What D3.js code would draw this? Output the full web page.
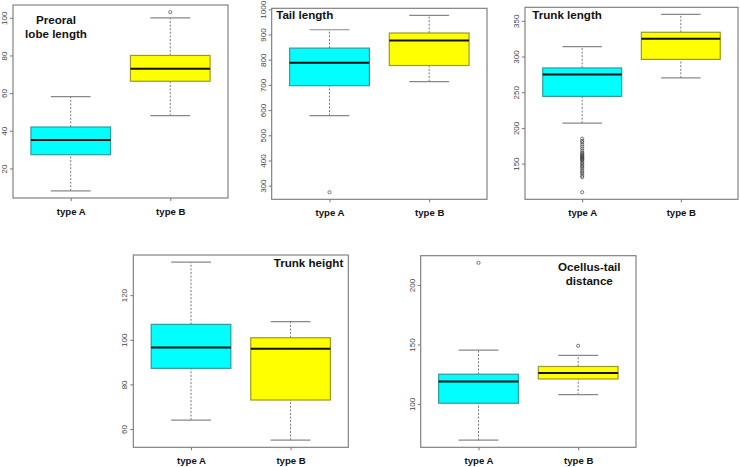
<!DOCTYPE html>
<html><head><meta charset="utf-8">
<script src="https://cdn.jsdelivr.net/npm/d3@7"></script>
<style>
html,body{margin:0;padding:0;background:#fff;}
svg{display:block;font-family:"Liberation Sans",Arial,Helvetica,sans-serif;}
</style></head>
<body><svg id="c" width="740" height="467"></svg>
<script>
// ---- data ----
const categories = ["type A", "type B"];

const preoralA = [8.1, 27.3, 35.1, 42, 58.1];
const preoralB = [48, 66.3, 73, 80, 100];
const preoralOutA = [];
const preoralOutB = [103];
const preoralTicks = [20, 40, 60, 80, 100];

const tailA = [578, 697, 788, 846, 919];
const tailB = [713, 777, 876, 906, 976];
const tailOutA = [274];
const tailOutB = [];
const tailTicks = [300, 400, 500, 600, 700, 800, 900, 1000];

const trunkLenA = [206.6, 244.2, 274.7, 284, 314];
const trunkLenB = [270, 296, 325, 334, 359];
const trunkLenOutA = [185, 182, 180, 177, 174, 171, 168, 165, 164, 162, 161, 160, 159, 158, 157, 156, 155, 153, 151, 149, 147, 145, 143, 140, 138, 136, 133, 131, 110];
const trunkLenOutB = [];
const trunkLenTicks = [150, 200, 250, 300, 350];

const trunkHtA = [64, 87.2, 96.5, 106.9, 134.8];
const trunkHtB = [55, 73, 96, 100.9, 108.1];
const trunkHtOutA = [];
const trunkHtOutB = [];
const trunkHtTicks = [60, 80, 100, 120];

const ocellusA = [69.5, 100.6, 118.8, 125, 145.3];
const ocellusB = [107.8, 121, 126, 131.5, 140.8];
const ocellusOutA = [218.7];
const ocellusOutB = [148.9];
const ocellusTicks = [100, 150, 200];

const titlePreoral = ["Preoral", "lobe length"];
const titleTail = ["Tail length"];
const titleTrunkLen = ["Trunk length"];
const titleTrunkHt = ["Trunk height"];
const titleOcellus = ["Ocellus-tail", "distance"];

// ---- layout / style ----
const fills = ["#00FFFF", "#FFFF00"];
const borders = ["#2f9c9c", "#9a9a22"];

const panels = [
  {frame:[13,228,5,198], stats:[preoralA, preoralB], outs:[preoralOutA, preoralOutB], ticks:preoralTicks,
   title:titlePreoral, tpos:{x:"left", dx:43, anchor:"middle", dy:19.3, lh:13.4}},
  {frame:[271.7,487,8.3,199.3], stats:[tailA, tailB], outs:[tailOutA, tailOutB], ticks:tailTicks,
   title:titleTail, tpos:{x:"left", dx:4.5, anchor:"start", dy:10.7, lh:13.4}},
  {frame:[525,738,7.3,199.3], stats:[trunkLenA, trunkLenB], outs:[trunkLenOutA, trunkLenOutB], ticks:trunkLenTicks,
   title:titleTrunkLen, tpos:{x:"left", dx:7.3, anchor:"start", dy:11.7, lh:13.4}},
  {frame:[133.3,348.3,255,447.3], stats:[trunkHtA, trunkHtB], outs:[trunkHtOutA, trunkHtOutB], ticks:trunkHtTicks,
   title:titleTrunkHt, tpos:{x:"right", dx:-5, anchor:"end", dy:12, lh:13.4}},
  {frame:[420.7,636,255.7,447.3], stats:[ocellusA, ocellusB], outs:[ocellusOutA, ocellusOutB], ticks:ocellusTicks,
   title:titleOcellus, tpos:{x:"right", dx:-46.7, anchor:"middle", dy:15, lh:14.3}}
];

const svg = d3.select("#c");

panels.forEach(p => {
  const [L, R, T, B] = p.frame;
  const g = svg.append("g");
  const all = p.stats.flat().concat(p.outs.flat());
  const [mn, mx] = d3.extent(all);
  const pad = (mx - mn) * 0.04;
  const y = d3.scaleLinear().domain([mn - pad, mx + pad]).range([B, T]);
  const x = d3.scalePoint().domain(categories).range([L, R]).padding(0.58);
  const step = x.step();
  const bw = step * 0.8, cw = step * 0.4;

  // boxes
  categories.forEach((c, i) => {
    const s = p.stats[i];
    const cx = x(c);
    const bg = g.append("g");
    // whiskers dashed
    bg.append("line").attr("x1", cx).attr("x2", cx).attr("y1", y(s[0])).attr("y2", y(s[1]))
      .attr("stroke", "#555").attr("stroke-width", 0.8).attr("stroke-dasharray", "2,1.6");
    bg.append("line").attr("x1", cx).attr("x2", cx).attr("y1", y(s[3])).attr("y2", y(s[4]))
      .attr("stroke", "#555").attr("stroke-width", 0.8).attr("stroke-dasharray", "2,1.6");
    // caps
    [s[0], s[4]].forEach(v => {
      bg.append("line").attr("x1", cx - cw / 2).attr("x2", cx + cw / 2).attr("y1", y(v)).attr("y2", y(v))
        .attr("stroke", "#888").attr("stroke-width", 1.2);
    });
    // box
    bg.append("rect").attr("x", cx - bw / 2).attr("width", bw)
      .attr("y", y(s[3])).attr("height", y(s[1]) - y(s[3]))
      .attr("fill", fills[i]).attr("stroke", borders[i]).attr("stroke-width", 1.2);
    // median
    bg.append("line").attr("x1", cx - bw / 2).attr("x2", cx + bw / 2).attr("y1", y(s[2])).attr("y2", y(s[2]))
      .attr("stroke", "#111").attr("stroke-width", 2);
    // outliers
    bg.selectAll("circle").data(p.outs[i]).join("circle")
      .attr("cx", cx).attr("cy", d => y(d)).attr("r", 1.6)
      .attr("fill", "none").attr("stroke", "#444").attr("stroke-width", 0.7);
  });

  // frame
  g.append("rect").attr("x", L).attr("y", T).attr("width", R - L).attr("height", B - T)
    .attr("fill", "none").attr("stroke", "#777").attr("stroke-width", 1.1);

  // y axis
  const ya = g.append("g").attr("transform", `translate(${L},0)`)
    .call(d3.axisLeft(y).tickValues(p.ticks).tickSize(3).tickSizeOuter(0).tickFormat(d3.format("d")));
  ya.select(".domain").remove();
  ya.selectAll(".tick line").attr("stroke", "#777");
  ya.selectAll(".tick text")
    .attr("transform", "rotate(-90)")
    .attr("x", 0).attr("y", -6).attr("dy", 0)
    .attr("text-anchor", "middle")
    .attr("font-size", 8).attr("fill", "#444")
    .attr("font-family", "Liberation Sans, Arial, sans-serif");

  // x axis
  const xa = g.append("g").attr("transform", `translate(0,${B})`)
    .call(d3.axisBottom(x).tickSize(3).tickSizeOuter(0));
  xa.select(".domain").remove();
  xa.selectAll(".tick line").attr("stroke", "#777");
  xa.selectAll(".tick text").attr("y", 14).attr("dy", "0.32em")
    .attr("font-size", 9.6).attr("font-weight", "bold").attr("fill", "#111")
    .attr("font-family", "Liberation Sans, Arial, sans-serif");

  // title
  const tx = (p.tpos.x === "left" ? L : R) + p.tpos.dx;
  p.title.forEach((t, k) => {
    g.append("text").attr("x", tx).attr("y", T + p.tpos.dy + k * p.tpos.lh)
      .attr("text-anchor", p.tpos.anchor).attr("font-size", 11.6).attr("font-weight", "bold")
      .attr("fill", "#111").text(t);
  });
});
</script></body></html>
